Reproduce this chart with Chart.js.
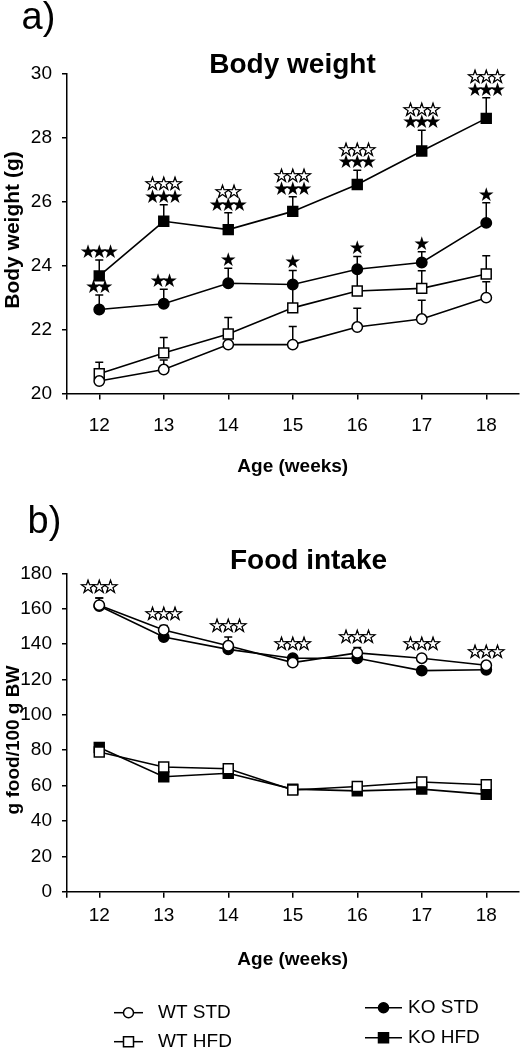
<!DOCTYPE html>
<html>
<head>
<meta charset="utf-8">
<script src="https://cdn.jsdelivr.net/npm/chart.js@4/dist/chart.umd.min.js"></script>
<style>
body { margin: 0; background: #fff; width: 527px; height: 1049px; overflow: hidden; position: relative; }
canvas { position: absolute; left: 0; }
#bw { top: 0; }
#fi { top: 480px; }
</style>
</head>
<body>
<canvas id="bw" width="527" height="480"></canvas>
<canvas id="fi" width="527" height="569"></canvas>
<script>
var weeks = [12, 13, 14, 15, 16, 17, 18];
var groups = ['WT STD', 'WT HFD', 'KO STD', 'KO HFD'];
var bwTicks = [20, 22, 24, 26, 28, 30];
var fiTicks = [0, 20, 40, 60, 80, 100, 120, 140, 160, 180];

// body weight (g) - mean and upper SD
var bwWtStd = [20.39, 20.75, 21.53, 21.53, 22.08, 22.33, 23.0];
var bwWtHfd = [20.62, 21.27, 21.86, 22.68, 23.21, 23.29, 23.74];
var bwKoStd = [22.63, 22.81, 23.45, 23.41, 23.89, 24.10, 25.34];
var bwKoHfd = [23.68, 25.39, 25.13, 25.70, 26.54, 27.59, 28.61];
var bwWtStdSd = [0.3, 0.3, 0.3, 0.57, 0.59, 0.59, 0.5];
var bwWtHfdSd = [0.36, 0.48, 0.52, 0.7, 0.6, 0.55, 0.57];
var bwKoStdSd = [0.45, 0.45, 0.47, 0.44, 0.40, 0.34, 0.63];
var bwKoHfdSd = [0.5, 0.52, 0.53, 0.46, 0.45, 0.65, 0.65];

// food intake (g food / 100 g BW)
var fiWtStd = [162, 148, 139, 129.5, 135, 132, 128];
var fiWtHfd = [79, 70.5, 69.5, 57.5, 59.5, 62, 60.5];
var fiKoStd = [161.5, 144, 137, 132, 132, 125, 125.5];
var fiKoHfd = [81.5, 65, 67, 58, 57, 58, 55];
var fiWtStdSd = [4, 2.5, 5, 1.5, 3, 1.5, 1.5];
var fiWtHfdSd = [1.5, 1.5, 1.5, 1.5, 1.5, 1.5, 1.5];
var fiKoStdSd = [4.5, 1.5, 1.5, 1.5, 1.5, 1.5, 1.5];
var fiKoHfdSd = [1.5, 1.5, 1.5, 1.5, 1.5, 1.5, 1.5];

// significance stars
var bwKoStdStars = ['★★', '★★', '★', '★', '★', '★', '★'];
var bwKoHfdStars = ['★★★', '★★★', '★★★', '★★★', '★★★', '★★★', '★★★'];
var bwKoHfdStars2 = ['', '☆☆☆', '☆☆', '☆☆☆', '☆☆☆', '☆☆☆', '☆☆☆'];
var fiStars = ['☆☆☆', '☆☆☆', '☆☆☆', '☆☆☆', '☆☆☆', '☆☆☆', '☆☆☆'];

Chart.defaults.font.family = "'Liberation Sans', Arial, sans-serif";
Chart.defaults.color = '#000';

function pts(vals) {
	return weeks.map(function (w, i) { return { x: w, y: vals[i] }; });
}

function series(label, vals, sd, filled, shape, stars) {
	return {
		label: label,
		data: pts(vals),
		errors: sd,
		stars: stars,
		borderColor: '#000',
		borderWidth: 1.6,
		pointStyle: shape,
		pointRadius: shape == 'rect' ? 7 : 5.2,
		pointBackgroundColor: filled ? '#000' : '#fff',
		pointBorderColor: '#000',
		pointBorderWidth: 1.5,
		tension: 0,
		fill: false
	};
}

function errTop(chart, i, j) {
	var ds = chart.data.datasets[i];
	return chart.scales.y.getPixelForValue(ds.data[j].y + ds.errors[j]);
}

// upward error bars, drawn under the markers
var errorBars = {
	id: 'errorBars',
	beforeDatasetsDraw: function (chart) {
		var ctx = chart.ctx;
		ctx.save();
		ctx.strokeStyle = '#000';
		ctx.lineWidth = 1.5;
		chart.data.datasets.forEach(function (ds, i) {
			chart.getDatasetMeta(i).data.forEach(function (pt, j) {
				var top = errTop(chart, i, j);
				ctx.beginPath();
				ctx.moveTo(pt.x, pt.y);
				ctx.lineTo(pt.x, top);
				ctx.moveTo(pt.x - 4, top);
				ctx.lineTo(pt.x + 4, top);
				ctx.stroke();
			});
		});
		ctx.restore();
	}
};

// star rows above the error bars, one glyph at a time
var stars = {
	id: 'stars',
	afterDatasetsDraw: function (chart, args, o) {
		var ctx = chart.ctx;
		ctx.save();
		ctx.font = o.size + 'px "DejaVu Sans"';
		ctx.textAlign = 'center';
		ctx.textBaseline = 'middle';
		ctx.fillStyle = '#000';
		ctx.strokeStyle = '#000';
		ctx.lineWidth = 0.7;
		chart.data.datasets.forEach(function (ds, i) {
			if (!ds.stars) return;
			chart.getDatasetMeta(i).data.forEach(function (pt, j) {
				var top = errTop(chart, i, j);
				if (o.column) {
					chart.data.datasets.forEach(function (d, k) { top = Math.min(top, errTop(chart, k, j)); });
				}
				var yy = top - o.gap;
				ds.stars.forEach(function (row) {
					var s = row[j] || '';
					for (var k = 0; k < s.length; k++) {
						var xx = pt.x + (k - (s.length - 1) / 2) * o.step;
						ctx.fillText(s[k], xx, yy);
						if (s[k] == '☆') ctx.strokeText(s[k], xx, yy);
					}
					yy -= o.rowGap;
				});
			});
		});
		ctx.restore();
	}
};

var panelText = {
	id: 'panelText',
	afterDraw: function (chart, args, o) {
		var ctx = chart.ctx, a = chart.chartArea;
		ctx.save();
		ctx.fillStyle = '#000';
		ctx.textBaseline = 'alphabetic';
		ctx.textAlign = 'left';
		ctx.font = '38px "Liberation Sans", Arial';
		ctx.fillText(o.label, o.labelX, o.labelY);
		ctx.textAlign = 'center';
		ctx.font = 'bold 28px "Liberation Sans", Arial';
		ctx.fillText(o.title, o.titleX, o.titleY);
		ctx.font = 'bold 19px "Liberation Sans", Arial';
		ctx.fillText(o.xTitle, (a.left + a.right) / 2, o.xTitleY);
		ctx.translate(o.yTitleX, o.yTitleY);
		ctx.rotate(-Math.PI / 2);
		ctx.textBaseline = 'middle';
		ctx.font = 'bold ' + o.yTitleSize + 'px "Liberation Sans", Arial';
		ctx.fillText(o.yTitle, 0, 0);
		ctx.restore();
	}
};

// legend under panel b
var keyBox = {
	id: 'keyBox',
	afterDraw: function (chart, args, o) {
		if (!o.items) return;
		var ctx = chart.ctx;
		ctx.save();
		ctx.font = '19px "Liberation Sans", Arial';
		ctx.textBaseline = 'middle';
		ctx.textAlign = 'left';
		chart.data.datasets.forEach(function (ds, i) {
			var it = o.items[i];
			var cx = (it.x0 + it.x1) / 2;
			ctx.strokeStyle = '#000';
			ctx.lineWidth = 1.5;
			ctx.beginPath();
			ctx.moveTo(it.x0, it.y);
			ctx.lineTo(it.x1, it.y);
			ctx.stroke();
			ctx.beginPath();
			if (ds.pointStyle == 'rect') ctx.rect(cx - 5, it.y - 5, 10, 10);
			else ctx.arc(cx, it.y, 5, 0, Math.PI * 2);
			ctx.fillStyle = ds.pointBackgroundColor;
			ctx.fill();
			ctx.stroke();
			ctx.fillStyle = '#000';
			ctx.fillText(ds.label, it.tx, it.y);
		});
		ctx.restore();
	}
};

function makeChart(id, datasets, yMin, yMax, yTicks, dims, texts, starOpts, keyOpts) {
	return new Chart(document.getElementById(id), {
		type: 'line',
		data: { datasets: datasets },
		plugins: [errorBars, stars, panelText, keyBox],
		options: {
			responsive: false,
			animation: false,
			layout: { padding: { top: dims.top, right: 4.5, left: 0, bottom: 0 } },
			plugins: {
				legend: { display: false },
				tooltip: { enabled: false },
				panelText: texts,
				stars: starOpts,
				keyBox: keyOpts
			},
			scales: {
				x: {
					type: 'linear',
					min: 11.5,
					max: 18.5,
					afterBuildTicks: function (s) {
						s.ticks = [11.5].concat(weeks).map(function (v) { return { value: v }; });
					},
					afterFit: function (s) { s.height = dims.xh; },
					ticks: {
						font: { size: 19 },
						padding: dims.xpad,
						maxRotation: 0,
						autoSkip: false,
						callback: function (v) { return Number.isInteger(v) ? v : ''; }
					},
					grid: { drawOnChartArea: false, drawTicks: true, tickLength: 6, color: '#000', lineWidth: 1.5 },
					border: { display: true, color: '#000', width: 1.5 }
				},
				y: {
					min: yMin,
					max: yMax,
					afterBuildTicks: function (s) {
						s.ticks = yTicks.map(function (v) { return { value: v }; });
					},
					afterFit: function (s) { s.width = 67; },
					ticks: { font: { size: 19 }, padding: 10 },
					grid: { drawOnChartArea: false, drawTicks: true, tickLength: 5, color: '#000', lineWidth: 1.5 },
					border: { display: true, color: '#000', width: 1.5 }
				}
			}
		}
	});
}

// a) body weight
makeChart('bw', [
	series(groups[0], bwWtStd, bwWtStdSd, false, 'circle'),
	series(groups[1], bwWtHfd, bwWtHfdSd, false, 'rect'),
	series(groups[2], bwKoStd, bwKoStdSd, true, 'circle', [bwKoStdStars]),
	series(groups[3], bwKoHfd, bwKoHfdSd, true, 'rect', [bwKoHfdStars, bwKoHfdStars2])
], 20, 30, bwTicks,
	{ top: 74, xh: 86.5, xpad: 15 },
	{ label: 'a)', labelX: 21.5, labelY: 28.5, title: 'Body weight', titleX: 292.5, titleY: 73,
	  xTitle: 'Age (weeks)', xTitleY: 471.5, yTitle: 'Body weight (g)', yTitleX: 13, yTitleY: 230, yTitleSize: 21 },
	{ gap: 7, rowGap: 12.5, step: 11.3, size: 19, column: false },
	{});

// b) food intake
makeChart('fi', [
	series(groups[0], fiWtStd, fiWtStdSd, false, 'circle', [fiStars]),
	series(groups[1], fiWtHfd, fiWtHfdSd, false, 'rect'),
	series(groups[2], fiKoStd, fiKoStdSd, true, 'circle'),
	series(groups[3], fiKoHfd, fiKoHfdSd, true, 'rect')
], 0, 180, fiTicks,
	{ top: 93.3, xh: 157.3, xpad: 6.5 },
	{ label: 'b)', labelX: 27.5, labelY: 53.3, title: 'Food intake', titleX: 308.5, titleY: 89.3,
	  xTitle: 'Age (weeks)', xTitleY: 485, yTitle: 'g food/100 g BW', yTitleX: 14, yTitleY: 260, yTitleSize: 19 },
	{ gap: 10, rowGap: 12.5, step: 11.3, size: 19, column: true },
	{ items: [
		{ x0: 114, x1: 143, y: 532.7, tx: 158 },
		{ x0: 114, x1: 143, y: 561.7, tx: 158 },
		{ x0: 365, x1: 402, y: 527.7, tx: 408 },
		{ x0: 365, x1: 402, y: 557.7, tx: 408 }
	] });
</script>
</body>
</html>
